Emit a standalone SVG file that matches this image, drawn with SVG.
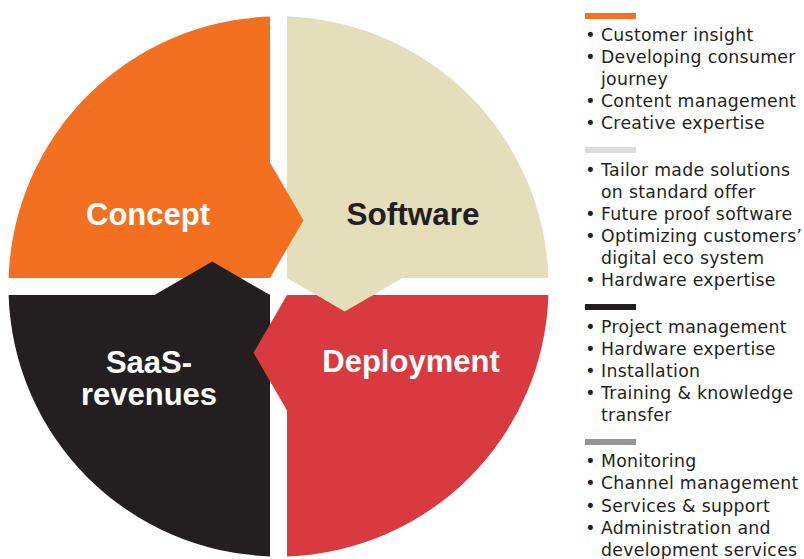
<svg xmlns="http://www.w3.org/2000/svg" width="804" height="559" viewBox="0 0 804 559">
<style>
.lbl{font-family:"Liberation Sans",Arial,sans-serif;font-weight:bold;font-size:31px;text-anchor:middle}
.lg{font-family:"DejaVu Sans",sans-serif;font-size:17.3px;letter-spacing:0.3px;fill:#231F20}
.b{text-anchor:middle}
</style>
<rect width="804" height="559" fill="#ffffff"/>
<g id="concept">
<path d="M270,278 L270,16.6 A270,270 0 0 0 8.6,278 Z" fill="#F37021"/>
</g>
<g id="software">
<path d="M287,278 L287,16.6 A270,270 0 0 1 548.4,278 Z" fill="#E4DEBA"/>
</g>
<g id="deployment">
<path d="M287,295 L548.4,295 A270,270 0 0 1 287,556.4 Z" fill="#D93A40"/>
</g>
<g id="saas">
<path d="M270,295 L270,556.4 A270,270 0 0 1 8.6,295 Z" fill="#231F20"/>
</g>
<g id="connectors">
<polygon points="270,162.5 303.5,220.25 270,278" fill="#F37021"/>
<polygon points="402.5,278 344.75,311.5 287,278" fill="#E4DEBA"/>
<polygon points="287,410.5 253.5,352.75 287,295" fill="#D93A40"/>
<polygon points="154.5,295 212.25,261.5 270,295" fill="#231F20"/>
</g>
<g id="labels">
<text class="lbl" x="148" y="225" fill="#ffffff">Concept</text>
<text class="lbl" x="413" y="225" fill="#231F20" style="font-size:31.5px">Software</text>
<text class="lbl" x="411" y="372" fill="#ffffff">Deployment</text>
<text class="lbl" x="149" y="373" fill="#ffffff">SaaS-</text>
<text class="lbl" x="149" y="405" fill="#ffffff">revenues</text>
</g>
<g id="legend">
<rect x="585" y="13" width="51" height="6" fill="#F37021"/>
<rect x="585" y="147" width="51" height="6" fill="#DCDCDC"/>
<rect x="585" y="304" width="51" height="6" fill="#231F20"/>
<rect x="585" y="439" width="51" height="6" fill="#939598"/>
<g class="lg">
<text class="b" x="590.5" y="41">•</text><text x="601" y="41">Customer insight</text>
<text class="b" x="590.5" y="63">•</text><text x="601" y="63">Developing consumer</text>
<text x="601" y="85">journey</text>
<text class="b" x="590.5" y="107">•</text><text x="601" y="107">Content management</text>
<text class="b" x="590.5" y="129">•</text><text x="601" y="129">Creative expertise</text>

<text class="b" x="590.5" y="176">•</text><text x="601" y="176">Tailor made solutions</text>
<text x="601" y="198">on standard offer</text>
<text class="b" x="590.5" y="220">•</text><text x="601" y="220">Future proof software</text>
<text class="b" x="590.5" y="242">•</text><text x="601" y="242">Optimizing customers’</text>
<text x="601" y="264">digital eco system</text>
<text class="b" x="590.5" y="286">•</text><text x="601" y="286">Hardware expertise</text>

<text class="b" x="590.5" y="333">•</text><text x="601" y="333">Project management</text>
<text class="b" x="590.5" y="355">•</text><text x="601" y="355">Hardware expertise</text>
<text class="b" x="590.5" y="377">•</text><text x="601" y="377">Installation</text>
<text class="b" x="590.5" y="399">•</text><text x="601" y="399">Training &amp; knowledge</text>
<text x="601" y="421">transfer</text>

<text class="b" x="590.5" y="467">•</text><text x="601" y="467">Monitoring</text>
<text class="b" x="590.5" y="489">•</text><text x="601" y="489">Channel management</text>
<text class="b" x="590.5" y="512">•</text><text x="601" y="512">Services &amp; support</text>
<text class="b" x="590.5" y="534">•</text><text x="601" y="534">Administration and</text>
<text x="601" y="556">development services</text>
</g>
</g>
</svg>
